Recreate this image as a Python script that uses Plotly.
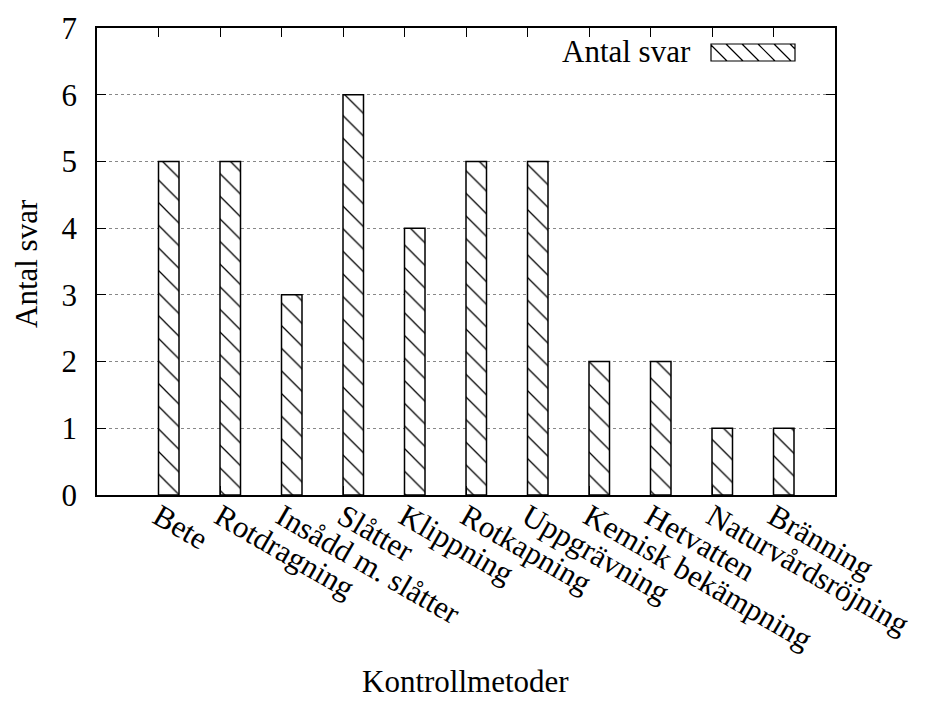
import plotly.graph_objects as go

categories = ["Bete", "Rotdragning", "Insådd m. slåtter", "Slåtter", "Klippning",
              "Rotkapning", "Uppgrävning", "Kemisk bekämpning", "Hetvatten",
              "Naturvårdsröjning", "Bränning"]
values = [5, 5, 3, 6, 4, 5, 5, 2, 2, 1, 1]
series_name = "Antal svar"
y_ticks = [0, 1, 2, 3, 4, 5, 6, 7]

FONT = "Liberation Serif"
FS = 31
W, H = 936, 702
L, R, T, B = 97, 835, 28, 495  # plot area in pixels


def px(xp):
    return (xp - L) / (R - L)


def py(yp):
    return (B - yp) / (B - T)


fig = go.Figure()
fig.add_trace(go.Bar(
    x=categories, y=values, name=series_name,
    width=1 / 3, offset=0,
    marker=dict(color="white",
                line=dict(color="black", width=1.5),
                pattern=dict(shape="\\", fgcolor="black", bgcolor="white",
                             size=16, solidity=0.08, fillmode="replace")),
    showlegend=False,
))

# legend key drawn as decoration: text then hatched box
bx0, bx1, by0, by1 = 711, 795, 44, 61
path = f"M{px(bx0)},{py(by0)} L{px(bx1)},{py(by0)} L{px(bx1)},{py(by1)} L{px(bx0)},{py(by1)} Z"
h = by1 - by0
xs = bx0 - h
while xs < bx1:
    x_start, y_start = xs, by0
    x_end, y_end = xs + h, by1
    if x_start < bx0:
        y_start = by0 + (bx0 - x_start)
        x_start = bx0
    if x_end > bx1:
        y_end = by1 - (x_end - bx1)
        x_end = bx1
    if x_end > x_start:
        path += f" M{px(x_start)},{py(y_start)} L{px(x_end)},{py(y_end)}"
    xs += 16

fig.add_shape(type="path", xref="paper", yref="paper", path=path,
              line=dict(color="black", width=1.2), fillcolor="rgba(0,0,0,0)")

fig.add_annotation(text=series_name, xref="paper", yref="paper",
                   x=px(693), y=py(51), xanchor="right", yanchor="middle",
                   showarrow=False, font=dict(family=FONT, size=FS, color="black"))

# axis titles
fig.add_annotation(text="Antal svar", xref="paper", yref="paper",
                   x=px(26), y=py(264), textangle=-90, xanchor="center", yanchor="middle",
                   showarrow=False, font=dict(family=FONT, size=FS, color="black"))
fig.add_annotation(text="Kontrollmetoder", xref="paper", yref="paper",
                   x=px(465), y=py(701), xanchor="center", yanchor="bottom",
                   showarrow=False, font=dict(family=FONT, size=FS, color="black"))

fig.update_layout(
    width=W, height=H,
    margin=dict(l=L, r=W - R, t=T, b=H - B, autoexpand=False),
    paper_bgcolor="white", plot_bgcolor="white",
    font=dict(family=FONT, size=FS, color="black"),
    xaxis=dict(type="category", range=[-1, 11], tickangle=30, automargin=False,
               ticks="inside", ticklen=9, tickcolor="black", tickwidth=1,
               showline=True, linecolor="black", linewidth=1.5, mirror="allticks",
               showgrid=False, zeroline=False, ticklabelstandoff=-10,
               tickfont=dict(family=FONT, size=FS, color="black")),
    yaxis=dict(range=[0, 7], tickvals=y_ticks, ticks="inside", ticklen=9,
               tickcolor="black", tickwidth=1, automargin=False,
               showline=True, linecolor="black", linewidth=1.5, mirror="allticks",
               showgrid=True, gridcolor="#888888", griddash="dot", gridwidth=1,
               zeroline=False, ticklabelstandoff=12,
               tickfont=dict(family=FONT, size=FS, color="black")),
)

fig.write_html("out.html", config={"displayModeBar": False},
               post_script="document.body.style.margin='0';document.body.style.overflow='hidden';")
